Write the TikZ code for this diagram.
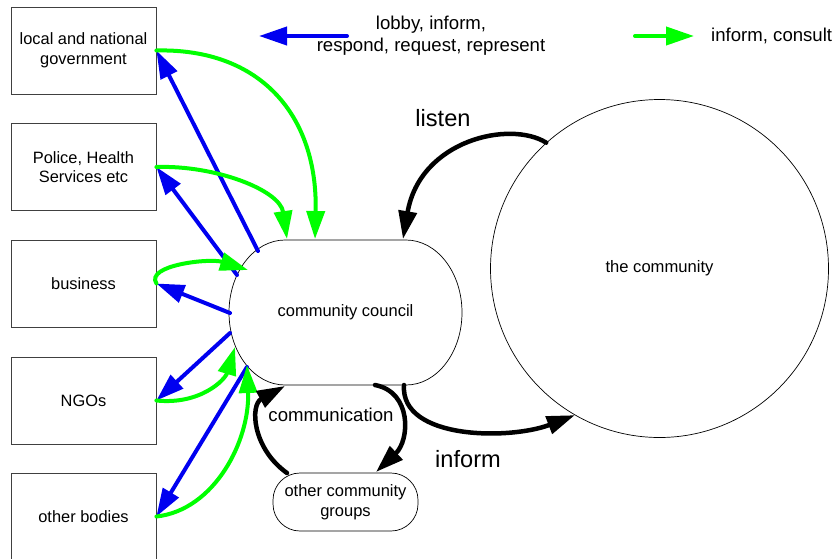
\documentclass[tikz,border=0pt]{standalone}
\usepackage{fontspec}
\setmainfont{Liberation Sans}
\usetikzlibrary{arrows.meta}
\definecolor{cblue}{RGB}{0,0,240}
\definecolor{cgreen}{RGB}{0,255,0}
\begin{document}
\begin{tikzpicture}[x=1pt,y=-1pt,
  box/.style={draw=black!75, line width=0.8pt, minimum width=145pt, minimum height=87pt,
    align=center, inner sep=0pt, font=\fontsize{16.4}{19.5}\selectfont},
  blu/.style={draw=cblue, line width=4pt, line cap=round, -{Triangle[length=28pt 0 0,width=18pt 0 0]}},
  grn/.style={draw=cgreen, line width=4pt, line cap=round, -{Triangle[length=28pt 0 0,width=18pt 0 0]}},
  blk/.style={draw=black, line width=4.5pt, line cap=round, -{Triangle[length=28pt 0 0,width=18pt 0 0]}},
  midtext/.style={font=\fontsize{16.5}{19.5}\selectfont, align=center, inner sep=0pt},
  bigtext/.style={font=\fontsize{23.6}{28}\selectfont, inner sep=0pt},
  legtext/.style={font=\fontsize{18.6}{22}\selectfont, align=center, inner sep=0pt}]
\useasboundingbox (0,0) rectangle (834,558);
\fill[white] (0,0) rectangle (834,558);

% boxes
\node[box] (gov) at (83.5,50.5) {local and national\\government};
\node[box] (pol) at (83.5,167) {Police, Health\\Services etc};
\node[box] (bus) at (83.5,283.5) {business};
\node[box] (ngo) at (83.5,400.5) {NGOs};
\node[box] (oth) at (83.5,516.5) {other bodies};

% community council
\draw[line width=0.7pt] (285,240) -- (406,240)
  arc[start angle=90,end angle=-90,x radius=56pt,y radius=72.5pt] -- (285,385)
  arc[start angle=-90,end angle=-270,x radius=56pt,y radius=72.5pt] -- cycle;
\node[midtext] (cc) at (345.5,312.5) {community council};

% the community
\node[draw, line width=0.7pt, circle, minimum size=338pt, inner sep=0pt, font=\fontsize{16.6}{19.5}\selectfont] (com) at (659.5,268.5) {the community};

% other community groups
\node[draw, line width=0.7pt, rounded corners=27pt, minimum width=145pt, minimum height=58pt,
  midtext] (ocg) at (345.5,502) {other community\\groups};

% boundary points on council
\coordinate (b1) at (258,251);
\coordinate (b2) at (237,275);
\coordinate (b3) at (230,313);
\coordinate (b4) at (230,333);
\coordinate (b5) at (247,367);
\coordinate (g1) at (315,239);
\coordinate (g2) at (287,239);
\coordinate (g3) at (248,270);
\coordinate (g4) at (235,347);
\coordinate (g5) at (247,365);
\coordinate (ltip) at (403,239);
\coordinate (itail) at (404,385);
\coordinate (ctip) at (285,386);
\coordinate (ctail) at (375,385);
\coordinate (otail) at (287,473);
\coordinate (otip) at (376,472);

% blue arrows
\draw[blu] (b1) -- (gov.east);
\draw[blu] (b2) -- (pol.east);
\draw[blu] (b3) -- (bus.east);
\draw[blu] (b4) -- (ngo.east);
\draw[blu] (b5) -- (oth.east);

% green arrows
\draw[grn] (gov.east) .. controls (260,48) and (318,115) .. (g1);
\draw[grn] (pol.east) .. controls (215,165) and (280,190) .. (g2);
\draw[grn] (bus.east) .. controls (145,265) and (210,258) .. (g3);
\draw[grn] (ngo.east) .. controls (200,405) and (225,380) .. (g4);
\draw[grn] (oth.east) .. controls (215,510) and (250,440) .. (g5);

% black arrows
\draw[blk] (com.132) .. controls (510,120) and (420,140) .. (ltip);
\draw[blk] (itail) .. controls (400,440) and (510,440) .. (com.240);
\draw[blk] (otail) .. controls (252,448) and (250,405) .. (ctip);
\draw[blk] (ctail) .. controls (412,392) and (410,440) .. (otip);

% labels
\node[bigtext] (llisten) at (443,118) {listen};
\node[bigtext] (linform) at (468,459) {inform};
\node[legtext] (lcomm) at (331,415) {communication};

% legend
\coordinate (lb1) at (347,36);
\coordinate (lb2) at (259,36);
\draw[blu] (lb1) -- (lb2);
\node[legtext] (legb) at (431,36) {lobby, inform,\\respond, request, represent};
\coordinate (lg1) at (635,36);
\coordinate (lg2) at (694,36);
\draw[grn] (lg1) -- (lg2);
\node[legtext, anchor=west] (legg) at (711,36) {inform, consult};
\end{tikzpicture}
\end{document}
